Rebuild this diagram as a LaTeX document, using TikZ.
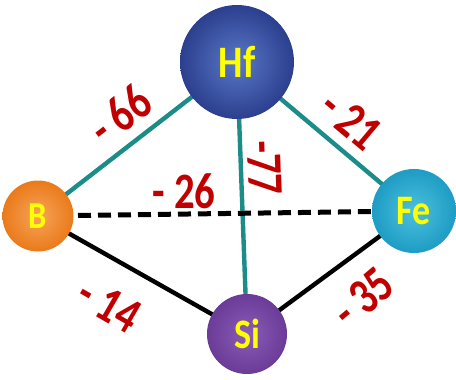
\documentclass[tikz,border=0pt]{standalone}
\usepackage{fontspec}
\setmainfont{Carlito}
\newfontfamily\condfont[FakeStretch=0.86]{Carlito}
\newfontfamily\lblfont[FakeStretch=0.8]{Carlito}
\usetikzlibrary{backgrounds}
\definecolor{hfout}{HTML}{2B3F8E}
\definecolor{hfin}{HTML}{5A78C8}
\definecolor{bout}{HTML}{EA7A1A}
\definecolor{bin}{HTML}{F7A45A}
\definecolor{feout}{HTML}{1E9CC4}
\definecolor{fein}{HTML}{4CC0DE}
\definecolor{siout}{HTML}{6A3C98}
\definecolor{siin}{HTML}{8A5CB8}
\definecolor{tealline}{HTML}{1B8C88}
\definecolor{lblred}{HTML}{C00000}
\definecolor{elemyellow}{HTML}{FFFF00}
\tikzset{
  atom/.style={circle, inner sep=0pt, text=elemyellow},
  bondteal/.style={draw=tealline, line width=4.4pt},
  bondblack/.style={draw=black, line width=4.4pt},
  bonddash/.style={draw=black, line width=5pt, dash pattern=on 13pt off 7pt},
  lbl/.style={text=lblred, font=\lblfont\bfseries\fontsize{51}{51}\selectfont, inner sep=0pt}
}
\begin{document}
\begin{tikzpicture}[x=1pt, y=-1pt]
\useasboundingbox (0,0) rectangle (456,380);
\node[atom, minimum size=114pt, inner color=hfin, outer color=hfout, font=\condfont\bfseries\fontsize{45}{45}\selectfont] (hf) at (237,62) {Hf};
\node[atom, minimum size=71pt, inner color=bin, outer color=bout, font=\condfont\bfseries\fontsize{38}{38}\selectfont] (b) at (38,216) {B};
\node[atom, minimum size=84pt, inner color=fein, outer color=feout, font=\condfont\bfseries\fontsize{42}{42}\selectfont] (fe) at (414,211) {Fe};
\node[atom, minimum size=80pt, inner color=siin, outer color=siout, font=\condfont\bfseries\fontsize{42}{42}\selectfont] (si) at (247,334) {Si};
\begin{scope}[on background layer]
\draw[bondteal] (hf.center) -- (b.center);
\draw[bondteal] (hf.center) -- (fe.center);
\draw[bondteal] (hf.center) -- (si.center);
\draw[bonddash] (b.center) -- (fe.center);
\draw[bondblack] (b.center) -- (si.center);
\draw[bondblack] (si.center) -- (fe.center);
\end{scope}
\node[lbl, rotate=38] (l66) at (120,115) {- 66};
\node[lbl, rotate=-40] (l21) at (351,120) {- 21};
\node[lbl, rotate=-88] (l77) at (265,168) {-77};
\node[lbl] (l26) at (184,191) {- 26};
\node[lbl, rotate=-30] (l14) at (109,305) {- 14};
\node[lbl, rotate=40] (l35) at (363,298) {- 35};
\end{tikzpicture}
\end{document}
